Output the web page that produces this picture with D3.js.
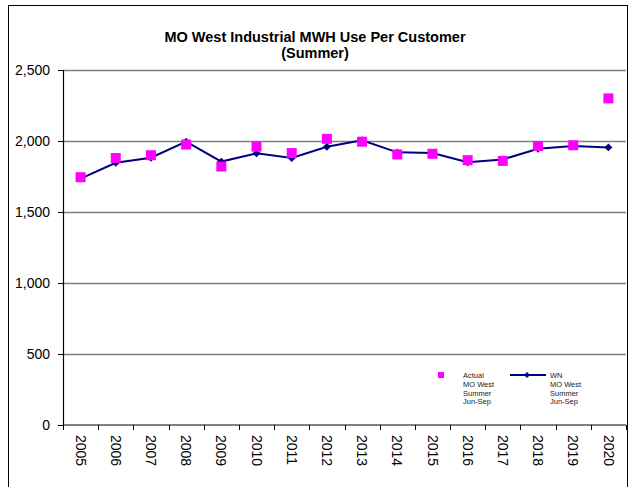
<!DOCTYPE html>
<html>
<head>
<meta charset="utf-8">
<script src="https://cdn.jsdelivr.net/npm/d3@7"></script>
<style>
  body { margin: 0; background: #fff; }
  text { font-family: "Liberation Sans", Arial, sans-serif; }
</style>
</head>
<body>
<div class="canvas"></div>
<script>
// data
const years = ['2005','2006','2007','2008','2009','2010','2011','2012',
               '2013','2014','2015','2016','2017','2018','2019','2020'];
const actual = [1745, 1880, 1900, 1975, 1820, 1960, 1915, 2015,
                1995, 1905, 1910, 1865, 1860, 1965, 1970, 2300];
const weatherNorm = [1735, 1847, 1882, 1995, 1855, 1913, 1880, 1960,
                     2005, 1920, 1915, 1850, 1870, 1945, 1965, 1955];
const yTicks = [0, 500, 1000, 1500, 2000, 2500];
const legendActual = ['Actual', 'MO West', 'Summer', 'Jun-Sep'];
const legendWN = ['WN', 'MO West', 'Summer', 'Jun-Sep'];

const svgWidth = 629;
const svgHeight = 487;

const svg = d3.select('.canvas')
    .append('svg')
    .attr('width', svgWidth)
    .attr('height', svgHeight);

// outer chart frame
svg.append('rect')
    .attr('x', 8.5)
    .attr('y', 5.5)
    .attr('width', 619)
    .attr('height', 490)
    .attr('fill', 'none')
    .attr('stroke', '#000')
    .attr('stroke-width', 1);

// title, two lines as separate texts
svg.append('text')
    .attr('x', 315)
    .attr('y', 42)
    .attr('text-anchor', 'middle')
    .style('font-weight', 'bold')
    .style('font-size', '14.5px')
    .text('MO West Industrial MWH Use Per Customer');
svg.append('text')
    .attr('x', 315)
    .attr('y', 58)
    .attr('text-anchor', 'middle')
    .style('font-weight', 'bold')
    .style('font-size', '14.5px')
    .text('(Summer)');

const margin = { top: 70, right: 3, bottom: 62, left: 63 };
const graphWidth = svgWidth - margin.left - margin.right;
const graphHeight = svgHeight - margin.top - margin.bottom;

const graph = svg.append('g')
    .attr('transform', `translate(${margin.left}, ${margin.top})`);

// scales
const y = d3.scaleLinear()
    .domain([0, 2500])
    .range([graphHeight, 0]);

const x = d3.scaleBand()
    .domain(years)
    .range([0, graphWidth]);

const cx = d => x(d) + x.bandwidth() / 2;

// gridlines
graph.selectAll('line.grid')
    .data(yTicks.filter(t => t > 0))
    .enter()
    .append('line')
    .attr('class', 'grid')
    .attr('x1', 0)
    .attr('x2', graphWidth)
    .attr('y1', d => Math.round(y(d)) + 0.5)
    .attr('y2', d => Math.round(y(d)) + 0.5)
    .attr('stroke', '#808080')
    .attr('stroke-width', 1.5);

// axes
const yAxis = d3.axisLeft(y)
    .tickValues(yTicks)
    .tickSize(5)
    .tickPadding(8)
    .tickFormat(d3.format(','));

const yAxisGroup = graph.append('g').call(yAxis);
yAxisGroup.select('.domain').attr('stroke', '#000').attr('stroke-width', 1.2);
yAxisGroup.selectAll('text')
    .attr('fill', '#000')
    .style('font-size', '14px')
    .style('font-family', '"Liberation Sans", Arial, sans-serif');

const xAxisGroup = graph.append('g')
    .attr('transform', `translate(0, ${graphHeight})`);

xAxisGroup.append('line')
    .attr('x1', 0)
    .attr('x2', graphWidth)
    .attr('y1', 0)
    .attr('y2', 0)
    .attr('stroke', '#000')
    .attr('stroke-width', 1.2);

// ticks sit on the band boundaries
const boundaries = years.map(d => x(d)).concat([graphWidth]);
xAxisGroup.selectAll('line.tick')
    .data(boundaries)
    .enter()
    .append('line')
    .attr('class', 'tick')
    .attr('x1', d => Math.round(d) + 0.5)
    .attr('x2', d => Math.round(d) + 0.5)
    .attr('y1', 0)
    .attr('y2', 5)
    .attr('stroke', '#000');

xAxisGroup.selectAll('text')
    .data(years)
    .enter()
    .append('text')
    .attr('transform', d => `translate(${cx(d)}, 10) rotate(90)`)
    .attr('dy', '0.35em')
    .attr('text-anchor', 'start')
    .style('font-size', '14px')
    .text(d => d);

// WN line with diamonds
const line = d3.line()
    .x((d, i) => cx(years[i]))
    .y(d => y(d));

graph.append('path')
    .datum(weatherNorm)
    .attr('d', line)
    .attr('fill', 'none')
    .attr('stroke', '#000080')
    .attr('stroke-width', 2);

const diamond = d3.symbol().type(d3.symbolDiamond2).size(40);

graph.selectAll('path.wn')
    .data(weatherNorm)
    .enter()
    .append('path')
    .attr('class', 'wn')
    .attr('d', diamond)
    .attr('transform', (d, i) => `translate(${cx(years[i])}, ${y(d)})`)
    .attr('fill', '#000080');

// actual squares
const sq = 10;
graph.selectAll('rect.actual')
    .data(actual)
    .enter()
    .append('rect')
    .attr('class', 'actual')
    .attr('x', (d, i) => cx(years[i]) - sq / 2)
    .attr('y', d => y(d) - sq / 2)
    .attr('width', sq)
    .attr('height', sq)
    .attr('fill', '#ff00ff');

// legend
const legend = svg.append('g');
legend.append('rect')
    .attr('x', 438)
    .attr('y', 372)
    .attr('width', 6)
    .attr('height', 6)
    .attr('fill', '#ff00ff');

legend.selectAll('text.la')
    .data(legendActual)
    .enter()
    .append('text')
    .attr('class', 'la')
    .attr('x', 463)
    .attr('y', (d, i) => 378 + i * 8.8)
    .style('font-size', '7.5px')
    .attr('fill', '#222')
    .text(d => d);

legend.append('line')
    .attr('x1', 510)
    .attr('x2', 546)
    .attr('y1', 375)
    .attr('y2', 375)
    .attr('stroke', '#000080')
    .attr('stroke-width', 2);
legend.append('path')
    .attr('d', d3.symbol().type(d3.symbolDiamond2).size(24))
    .attr('transform', 'translate(527, 375)')
    .attr('fill', '#000080');

legend.selectAll('text.lw')
    .data(legendWN)
    .enter()
    .append('text')
    .attr('class', 'lw')
    .attr('x', 550)
    .attr('y', (d, i) => 378 + i * 8.8)
    .style('font-size', '7.5px')
    .attr('fill', '#222')
    .text(d => d);
</script>
</body>
</html>
